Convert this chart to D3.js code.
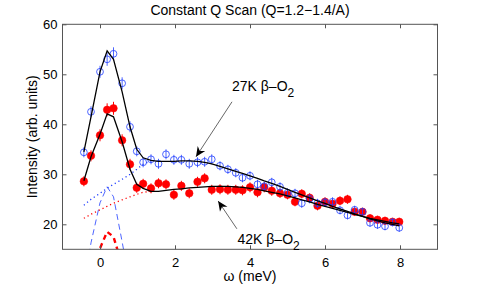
<!DOCTYPE html>
<html>
<head>
<meta charset="utf-8">
<script src="https://cdn.jsdelivr.net/npm/d3@7"></script>
<style>
  body { margin: 0; background: #fff; }
  text { font-family: 'Liberation Sans', Arial, Helvetica, sans-serif; fill: #000; }
</style>
</head>
<body>
<div id="chart"></div>
<script>
// energy transfer (meV), shared by both temperatures
const omega = [-0.43, -0.24, 0.0, 0.19, 0.36, 0.59, 0.8, 0.98, 1.15, 1.36, 1.56, 1.76, 1.97, 2.17, 2.38,
  2.6, 2.79, 2.98, 3.2, 3.41, 3.62, 3.8, 4.0, 4.2, 4.38, 4.58, 4.8, 5.0, 5.2, 5.38, 5.59, 5.8, 6.0, 6.2,
  6.4, 6.6, 6.79, 7.0, 7.2, 7.4, 7.6, 7.8, 7.98];

// 27K data (open blue circles)
const int27 = [34.4, 42.5, 50.5, 53.0, 54.1, 48.2, 39.5, 34.6, 32.4, 33.0, 32.1, 34.0, 32.9, 32.9, 32.1,
  32.4, 32.5, 33.0, 31.7, 31.0, 30.3, 29.3, 29.7, 28.0, 27.6, 28.4, 27.5, 26.3, 26.2, 24.2, 25.1, 24.2,
  24.4, 24.5, 22.8, 21.8, 22.9, 22.5, 20.3, 19.9, 19.6, 20.4, 19.3];
const err27 = [1.0, 1.1, 1.2, 1.3, 1.3, 1.2, 1.1, 1.0, 1.0, 1.0, 1.0, 1.0, 1.0, 1.0, 1.0,
  1.0, 1.0, 1.0, 0.9, 0.9, 0.9, 0.9, 0.9, 0.9, 0.9, 0.9, 0.9, 0.9, 0.9, 0.9, 0.9, 0.9,
  0.9, 0.9, 0.8, 0.8, 0.8, 0.8, 0.8, 0.8, 0.8, 0.8, 0.8];

// 42K data (filled red circles)
const int42 = [28.6, 33.7, 37.8, 42.9, 43.2, 36.8, 32.0, 27.3, 28.1, 27.2, 28.2, 28.0, 25.9, 27.7, 26.2,
  28.5, 29.2, 26.9, 27.0, 26.9, 26.9, 26.8, 27.4, 26.4, 27.4, 26.7, 26.2, 25.9, 24.5, 26.1, 25.3, 23.7,
  24.5, 24.1, 24.7, 25.0, 22.5, 22.5, 21.2, 20.9, 20.7, 20.5, 20.5];
const err42 = [1.0, 1.1, 1.2, 1.3, 1.3, 1.2, 1.1, 1.0, 1.0, 1.0, 1.0, 1.0, 1.0, 1.0, 1.0,
  1.0, 1.0, 1.0, 1.0, 1.0, 1.0, 1.0, 1.0, 1.0, 1.0, 1.0, 0.9, 0.9, 0.9, 0.9, 0.9, 0.9,
  0.9, 0.9, 0.9, 0.9, 0.8, 0.8, 0.8, 0.8, 0.8, 0.8, 0.8];

// total fits
const fit27 = [34.5, 41.5, 50.5, 54.7, 53.0, 46.5, 39.5, 35.0, 33.3, 32.8, 32.6, 32.6, 32.6, 32.7, 32.7,
  32.6, 32.4, 32.1, 31.6, 31.1, 30.6, 30.2, 29.7, 29.2, 28.7, 28.2, 27.6, 27.0, 26.4, 25.9, 25.3, 24.7,
  24.2, 23.6, 23.1, 22.6, 22.1, 21.6, 21.1, 20.7, 20.3, 20.0, 19.7];
const fit42 = [28.7, 33.5, 38.0, 42.1, 41.5, 36.5, 31.0, 28.0, 27.2, 26.6, 26.6, 26.8, 27.0, 27.1, 27.3,
  27.4, 27.5, 27.6, 27.6, 27.6, 27.5, 27.4, 27.2, 27.0, 26.7, 26.4, 26.1, 25.7, 25.3, 24.9, 24.5, 24.0,
  23.6, 23.2, 22.8, 22.4, 22.0, 21.6, 21.2, 20.9, 20.6, 20.3, 20.1];

// broad component (dotted), low-energy part only
const broad27 = [23.8, 25.0, 26.2, 27.2, 28.0, 29.0, 30.0, 31.0, 32.0, 32.7];
const broad42 = [21.2, 22.0, 22.9, 23.6, 24.2, 24.9, 25.5, 26.0, 26.4, 26.6];

// elastic peak component (dashed)
const peak27 = [8.0, 16.3, 24.3, 27.5, 25.5, 16.5, 8.0];
const peak42 = [5.0, 10.5, 15.2, 18.5, 17.5, 11.8, 5.5];

const xTicks = [0, 2, 4, 6, 8];
const yTicks = [20, 30, 40, 50, 60];

const blue = '#1f3dff';
const red = '#ff0000';

drawChart();

function drawChart() {
  const width = 485;
  const height = 287;
  const margin = { top: 24.3, right: 47.5, bottom: 37.7, left: 62.5 };

  const svg = d3.select('#chart').append('svg')
      .attr('width', width)
      .attr('height', height);

  const x = d3.scaleLinear().domain([-1, 9]).range([margin.left, width - margin.right]);
  const y = d3.scaleLinear().domain([15, 60]).range([height - margin.bottom, margin.top]);

  svg.append('clipPath')
      .attr('id', 'plot-clip')
    .append('rect')
      .attr('x', x(-1))
      .attr('y', y(60))
      .attr('width', x(9) - x(-1))
      .attr('height', y(15) - y(60));

  const plot = svg.append('g').attr('clip-path', 'url(#plot-clip)');

  drawComponents(plot, x, y);
  drawData(plot, x, y);
  drawFits(plot, x, y);
  drawAxes(svg, x, y);
  drawAnnotations(svg, x, y);
}

function lineOf(x, y, values) {
  return d3.line()
      .x((d, i) => x(omega[i]))
      .y(d => y(d))(values);
}

function drawComponents(plot, x, y) {
  // elastic peaks
  plot.append('path')
      .attr('d', lineOf(x, y, peak27))
      .attr('fill', 'none')
      .attr('stroke', blue)
      .attr('stroke-width', 0.8)
      .attr('stroke-dasharray', '6,4');

  plot.append('path')
      .attr('d', lineOf(x, y, peak42))
      .attr('fill', 'none')
      .attr('stroke', red)
      .attr('stroke-width', 2.4)
      .attr('stroke-dasharray', '5,4');

  // broad backgrounds
  plot.append('path')
      .attr('d', lineOf(x, y, broad27))
      .attr('fill', 'none')
      .attr('stroke', blue)
      .attr('stroke-width', 1.3)
      .attr('stroke-dasharray', '1.2,3');

  plot.append('path')
      .attr('d', lineOf(x, y, broad42))
      .attr('fill', 'none')
      .attr('stroke', red)
      .attr('stroke-width', 1.3)
      .attr('stroke-dasharray', '1.2,3');
}

function drawData(plot, x, y) {
  const red42 = plot.append('g');
  red42.selectAll('line')
      .data(int42)
      .enter()
      .append('line')
      .attr('x1', (d, i) => x(omega[i]))
      .attr('x2', (d, i) => x(omega[i]))
      .attr('y1', (d, i) => y(d - err42[i]))
      .attr('y2', (d, i) => y(d + err42[i]))
      .attr('stroke', red)
      .attr('stroke-width', 1);
  red42.selectAll('circle')
      .data(int42)
      .enter()
      .append('circle')
      .attr('cx', (d, i) => x(omega[i]))
      .attr('cy', d => y(d))
      .attr('r', 3.8)
      .attr('fill', red)
      .attr('stroke', red)
      .attr('stroke-width', 0.5);

  const blue27 = plot.append('g');
  blue27.selectAll('line')
      .data(int27)
      .enter()
      .append('line')
      .attr('x1', (d, i) => x(omega[i]))
      .attr('x2', (d, i) => x(omega[i]))
      .attr('y1', (d, i) => y(d - err27[i]))
      .attr('y2', (d, i) => y(d + err27[i]))
      .attr('stroke', blue)
      .attr('stroke-width', 0.8);
  blue27.selectAll('circle')
      .data(int27)
      .enter()
      .append('circle')
      .attr('cx', (d, i) => x(omega[i]))
      .attr('cy', d => y(d))
      .attr('r', 3.4)
      .attr('fill', 'none')
      .attr('stroke', blue)
      .attr('stroke-width', 0.8);
}

function drawFits(plot, x, y) {
  [fit27, fit42].forEach(fit => {
    plot.append('path')
        .attr('d', lineOf(x, y, fit))
        .attr('fill', 'none')
        .attr('stroke', '#000')
        .attr('stroke-width', 1.3);
  });
}

function drawAxes(svg, x, y) {
  const x0 = x.range()[0], x1 = x.range()[1];
  const y0 = y.range()[0], y1 = y.range()[1];
  const axisColor = '#555';

  // ticks on all four sides, pointing inward
  svg.append('g')
      .attr('transform', `translate(0,${y0})`)
      .call(d3.axisBottom(x).tickValues(xTicks).tickSize(-4).tickPadding(8).tickFormat(d3.format('d')))
      .call(g => g.select('.domain').remove());
  svg.append('g')
      .attr('transform', `translate(0,${y1})`)
      .call(d3.axisTop(x).tickValues(xTicks).tickSize(-4).tickFormat(''))
      .call(g => g.select('.domain').remove());
  svg.append('g')
      .attr('transform', `translate(${x0},0)`)
      .call(d3.axisLeft(y).tickValues(yTicks).tickSize(-4).tickPadding(5).tickFormat(d3.format('d')))
      .call(g => g.select('.domain').remove());
  svg.append('g')
      .attr('transform', `translate(${x1},0)`)
      .call(d3.axisRight(y).tickValues(yTicks).tickSize(-4).tickFormat(''))
      .call(g => g.select('.domain').remove());

  svg.selectAll('.tick line').attr('stroke', axisColor);
  svg.selectAll('.tick text')
      .style('font-size', '13px')
      .style('font-family', "'Liberation Sans', Arial, sans-serif");

  svg.append('rect')
      .attr('x', x0)
      .attr('y', y1)
      .attr('width', x1 - x0)
      .attr('height', y0 - y1)
      .attr('fill', 'none')
      .attr('stroke', axisColor)
      .attr('stroke-width', 1);

  svg.append('text')
      .text('Constant Q Scan (Q=1.2\u22121.4/A)')
      .attr('x', (x0 + x1) / 2)
      .attr('y', 15)
      .style('text-anchor', 'middle')
      .style('font-size', '14px');

  svg.append('text')
      .text('\u03c9 (meV)')
      .attr('x', (x0 + x1) / 2)
      .attr('y', 281)
      .style('text-anchor', 'middle')
      .style('font-size', '14px');

  svg.append('text')
      .text('Intensity (arb. units)')
      .attr('transform', `translate(36.5,${(y0 + y1) / 2}) rotate(-90)`)
      .style('text-anchor', 'middle')
      .style('font-size', '14px');
}

function drawAnnotations(svg, x, y) {
  const notes = [
    { label: '27K \u03b2\u2013O', tx: 3.52, ty: 46.66, from: [3.52, 44.5], to: [2.56, 33.5] },
    { label: '42K \u03b2\u2013O', tx: 3.667, ty: 16.16, from: [3.65, 19.1], to: [3.15, 24.66] }
  ];

  notes.forEach(n => {
    const t = svg.append('text')
        .attr('x', x(n.tx))
        .attr('y', y(n.ty))
        .style('font-size', '14px');
    t.append('tspan').text(n.label);
    t.append('tspan').text('2').attr('dy', 6).style('font-size', '12px');

    const ax = x(n.from[0]), ay = y(n.from[1]);
    const bx = x(n.to[0]), by = y(n.to[1]);
    svg.append('line')
        .attr('x1', ax).attr('y1', ay)
        .attr('x2', bx).attr('y2', by)
        .attr('stroke', '#000')
        .attr('stroke-width', 0.6);

    // barbed arrow head
    const ang = Math.atan2(by - ay, bx - ax);
    const len = 10, half = 4.5, back = 7;
    const ux = Math.cos(ang), uy = Math.sin(ang);
    const px = -uy, py = ux;
    const pts = [
      [bx, by],
      [bx - len * ux + half * px, by - len * uy + half * py],
      [bx - back * ux, by - back * uy],
      [bx - len * ux - half * px, by - len * uy - half * py]
    ];
    svg.append('path')
        .attr('d', 'M' + pts.map(p => p.join(',')).join('L') + 'Z')
        .attr('fill', '#000');
  });
}
</script>
</body>
</html>
